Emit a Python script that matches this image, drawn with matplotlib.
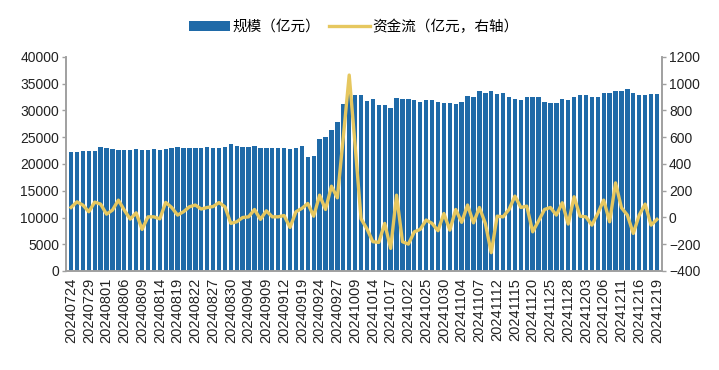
import numpy as np
import matplotlib
matplotlib.use("Agg")
import matplotlib.pyplot as plt
from matplotlib.patches import Patch
from matplotlib.lines import Line2D

plt.rcParams['font.family'] = ['Liberation Sans', 'Noto Sans CJK SC', 'DejaVu Sans']

# trading days 2024-07-24 .. 2024-12-19
months = {
    "07": [24, 25, 26, 29, 30, 31],
    "08": [1, 2, 5, 6, 7, 8, 9, 12, 13, 14, 15, 16, 19, 20, 21, 22, 23, 26, 27, 28, 29, 30],
    "09": [2, 3, 4, 5, 6, 9, 10, 11, 12, 13, 18, 19, 20, 23, 24, 25, 26, 27, 30],
    "10": [8, 9, 10, 11, 14, 15, 16, 17, 18, 21, 22, 23, 24, 25, 28, 29, 30, 31],
    "11": [1, 4, 5, 6, 7, 8, 11, 12, 13, 14, 15, 18, 19, 20, 21, 22, 25, 26, 27, 28, 29],
    "12": [2, 3, 4, 5, 6, 9, 10, 11, 12, 13, 16, 17, 18, 19],
}
dates = [f"2024{m}{d:02d}" for m, days in months.items() for d in days]

# 规模（亿元）
scale = [
    22180, 22180, 22490, 22370, 22370, 23180, 23050, 22800, 22550, 22680,
    22680, 22860, 22680, 22680, 22860, 22610, 22860, 23050, 23180, 23050,
    23050, 23050, 23050, 23240, 23050, 23050, 23240, 23740, 23300, 23240,
    23240, 23360, 23050, 22990, 23050, 23050, 23050, 22860, 22990, 23360,
    21370, 21490, 24670, 25100, 26350, 27850, 31210, 33020, 32950, 32950,
    31770, 32150, 31080, 31080, 30520, 32270, 32150, 32090, 31960, 31590,
    31960, 31960, 31590, 31400, 31400, 31250, 31620, 32770, 32580, 33640,
    33330, 33580, 33080, 33270, 32580, 32150, 31960, 32580, 32580, 32580,
    31590, 31460, 31460, 32150, 31960, 32580, 32890, 32890, 32580, 32580,
    33330, 33330, 33640, 33640, 33950, 33330, 32890, 32890, 33080, 33080,
]

# 资金流（亿元）
flow = [
    75, 117, 93, 43, 115, 100, 25, 55, 130, 55,
    -12, 35, -89, 5, 5, -10, 113, 75, 18, 43,
    80, 93, 63, 75, 82, 112, 80, -44, -32, 0,
    5, 60, -14, 50, 5, 5, 15, -74, 43, 68,
    105, 10, 167, 60, 234, 147, 600, 1065, 540, -10,
    -85, -181, -186, -44, -231, 167, -181, -199, -107, -89,
    -19, -44, -99, 30, -94, 60, -36, 93, -40, 75,
    -44, -263, 10, 5, 60, 160, 75, 85, -107, -25,
    60, 75, 18, 110, -49, 155, 10, 5, -57, 30,
    130, -32, 259, 73, 18, -119, 18, 100, -57, -14,
]

bar_color = "#1f6aa8"
line_color = "#e6c75f"
spine_color = "#a0a0a0"

x = np.arange(len(dates))

fig = plt.figure(figsize=(7.19, 3.70), dpi=100)
ax = fig.add_axes([66/719, 1-271/370, 596/719, 214/370])
ax2 = ax.twinx()

ax.bar(x, scale, width=0.74, color=bar_color, zorder=2)
ax2.plot(x, flow, color=line_color, lw=2.4, zorder=3, solid_joinstyle='round')

ax.set_xlim(-0.85, len(dates) - 0.15)
ax.set_ylim(0, 40000)
ax.set_yticks(np.arange(0, 40001, 5000))
ax2.set_ylim(-400, 1200)
ax2.set_yticks(np.arange(-400, 1201, 200))

ax.set_xticks(x[::3])
ax.set_xticklabels(dates[::3], rotation=90, fontsize=10.5, color="#222222")
ax.tick_params(axis='x', length=0, pad=5)
ax.tick_params(axis='y', labelsize=10, colors=spine_color, labelcolor="#222222", length=3, width=1, pad=2)
ax2.tick_params(axis='y', labelsize=10, colors=spine_color, labelcolor="#222222", length=3, width=1, pad=2)

for a in (ax, ax2):
    a.spines['top'].set_visible(False)
    for s in ('left', 'right', 'bottom'):
        a.spines[s].set_color(spine_color)
        a.spines[s].set_linewidth(1.2)

handles = [Patch(facecolor=bar_color, edgecolor='none'),
           Line2D([0], [0], color=line_color, lw=2.4)]
fig.legend(handles, ["规模（亿元）", "资金流（亿元，右轴）"],
           loc='center', bbox_to_anchor=(0.492, 0.928), ncol=2, frameon=False,
           prop={'family': ['Noto Sans CJK SC', 'DejaVu Sans'], 'size': 10.5},
           handlelength=2.8, handletextpad=0.15, columnspacing=0.6)

fig.savefig("out.png", dpi=100)
